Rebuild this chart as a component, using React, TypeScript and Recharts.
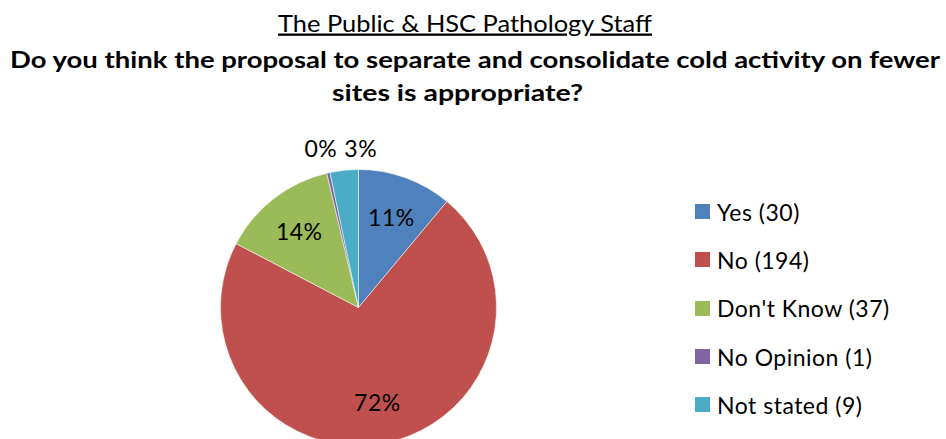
import { PieChart, Pie, Cell, Legend } from 'recharts'

const categories = ['Yes', 'No', "Don't Know", 'No Opinion', 'Not stated']
const counts = [30, 194, 37, 1, 9]
const colors = ['#4F81BD', '#C0504D', '#9BBB59', '#8064A2', '#4BACC6']
const titleLines = [
  'The Public & HSC Pathology Staff',
  'Do you think the proposal to separate and consolidate cold activity on fewer',
  'sites is appropriate?',
]

const data = categories.map((name, i) => ({ name, value: counts[i], label: `${name} (${counts[i]})` }))

const FONT = 'Lato, "Open Sans", sans-serif'
const RAD = Math.PI / 180
const total = counts.reduce((a, b) => a + b, 0)
// mid angle of the last slice, the tiny outside labels sit either side of it
const lastMid = 90 - ((total - counts[counts.length - 1] / 2) / total) * 360

const renderLabel = (props: any) => {
  const { cx, cy, midAngle, outerRadius, percent, index } = props
  const text = `${Math.round(percent * 100)}%`
  if (percent >= 0.05) {
    const r = outerRadius * 0.7
    return (
      <text x={cx + r * Math.cos(-midAngle * RAD)} y={cy + r * Math.sin(-midAngle * RAD)}
        textAnchor="middle" dominantBaseline="central" fill="#000" fontSize={23} letterSpacing={0.5} fontFamily={FONT}>
        {text}
      </text>
    )
  }
  const r = outerRadius + 27
  const gx = cx + r * Math.cos(-lastMid * RAD)
  const last = index === counts.length - 1
  return (
    <text x={last ? gx + 3 : gx - 4} y={cy - outerRadius - 22}
      textAnchor={last ? 'start' : 'end'} dominantBaseline="central" fill="#000" fontSize={23} letterSpacing={0.5} fontFamily={FONT}>
      {text}
    </text>
  )
}

const renderLegend = () => {
  return (
    <div>
      {data.map((entry, i) => (
        <div key={`leg-${i}`} style={{ display: 'flex', alignItems: 'center', height: 48.3 }}>
          <span style={{ width: 15, height: 15, background: colors[i], display: 'inline-block', marginRight: 7 }} />
          <span style={{ fontFamily: FONT, fontSize: 23, letterSpacing: 0.5, color: '#000' }}>{entry.label}</span>
        </div>
      ))}
    </div>
  )
}

const App = () => {
  return (
    <div style={{ position: 'absolute', left: 0, top: 0, width: 946, height: 439, background: '#fff', overflow: 'hidden' }}>
      <PieChart width={946} height={439} margin={{ top: 0, right: 0, bottom: 0, left: 0 }}>
        <Pie
          data={data}
          dataKey="value"
          nameKey="label"
          cx={358.5}
          cy={307.5}
          outerRadius={138}
          startAngle={90}
          endAngle={-270}
          stroke="#fff"
          strokeWidth={0.5}
          label={renderLabel}
          labelLine={false}
          isAnimationActive={false}
        >
          {data.map((entry, index) => (
            <Cell key={`cell-${index}`} fill={colors[index]} />
          ))}
        </Pie>
        <Legend layout="vertical" align="right" verticalAlign="top"
          wrapperStyle={{ left: 695, top: 187.5, width: 245 }} content={renderLegend} />
      </PieChart>
      <svg width={946} height={110} style={{ position: 'absolute', left: 0, top: 0 }}>
        <text x={465} y={31.5} textAnchor="middle" fontSize={23} fontFamily={FONT} fill="#000"
          textLength={374} lengthAdjust="spacingAndGlyphs" style={{ textDecoration: 'underline' }}>
          {titleLines[0]}
        </text>
        <text x={475} y={68} textAnchor="middle" fontSize={23} fontWeight="bold" fontFamily={FONT} fill="#000"
          textLength={930} lengthAdjust="spacingAndGlyphs">
          {titleLines[1]}
        </text>
        <text x={457.5} y={101} textAnchor="middle" fontSize={23} fontWeight="bold" fontFamily={FONT} fill="#000"
          textLength={251} lengthAdjust="spacingAndGlyphs">
          {titleLines[2]}
        </text>
      </svg>
    </div>
  )
}

export default App
